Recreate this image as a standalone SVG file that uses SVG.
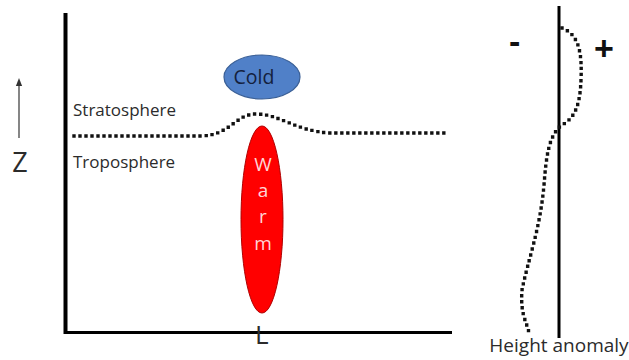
<svg xmlns="http://www.w3.org/2000/svg" width="629" height="360" viewBox="0 0 629 360">
<style>
text{font-family:"Open Sans","Liberation Sans",sans-serif;fill:#2b2b2b}
.dot{fill:none;stroke:#111;stroke-width:3.4;stroke-dasharray:0 6;stroke-linecap:square}
.axis{stroke:#000;fill:none}
.sign{font-family:"Liberation Sans",Arial,sans-serif;font-weight:bold;fill:#111}
.warmtxt{fill:#ffd6d6;font-size:19px}
</style>
<defs>
<marker id="ah" viewBox="0 0 10 10" refX="5" refY="5" markerWidth="6" markerHeight="6" orient="auto">
<path d="M0,1 L10,5 L0,9 Z" fill="#333"/>
</marker>
</defs>
<rect width="629" height="360" fill="#fff"/>
<g id="axes">
<line class="axis" x1="65.5" y1="13" x2="65.5" y2="334" stroke-width="4"/>
<line class="axis" x1="64" y1="332.5" x2="452" y2="332.5" stroke-width="3"/>
<line class="axis" x1="559" y1="6" x2="559" y2="338" stroke-width="3"/>
</g>
<g id="z-arrow">
<line x1="19" y1="138" x2="19" y2="82" stroke="#444" stroke-width="1.3" marker-end="url(#ah)"/>
<text x="20" y="172" font-size="27" text-anchor="middle">Z</text>
</g>
<g id="labels">
<text x="73" y="116" font-size="17">Stratosphere</text>
<text x="73" y="168" font-size="17">Troposphere</text>
<text x="255" y="344" font-size="26">L</text>
<text class="sign" x="509" y="53" font-size="34">-</text>
<text class="sign" x="594" y="60" font-size="34">+</text>
<text x="559" y="352" font-size="19" text-anchor="middle">Height anomaly</text>
</g>
<g id="connectors">
<path class="dot" d="M74,136 L200,136 C230,136 235,114 256,114 C280,114 295,131 330,133 L447,133"/>
<path class="dot" d="M562,28 C580,35 582,55 581,80 C580,105 575,118 562,125 C548,135 546,160 544,185 C540,230 528,260 522,290 C520,315 527,322 529,333"/>
</g>
<g id="cold">
<ellipse cx="262" cy="77" rx="38" ry="22" fill="#5080c8" stroke="#3a5f96" stroke-width="1.2"/>
<text x="254" y="84" font-size="19.5" text-anchor="middle" style="fill:#14213d">Cold</text>
</g>
<g id="warm">
<ellipse cx="262" cy="219.5" rx="21" ry="93.5" fill="#ff0000" stroke="#b00000" stroke-width="1"/>
<g text-anchor="middle">
<text class="warmtxt" x="263" y="171">W</text>
<text class="warmtxt" x="263" y="197">a</text>
<text class="warmtxt" x="263" y="223">r</text>
<text class="warmtxt" x="263" y="250">m</text>
</g>
</g>
</svg>
